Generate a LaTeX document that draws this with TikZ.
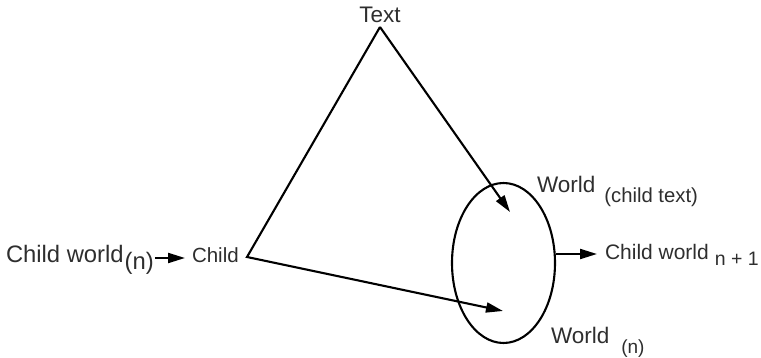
\documentclass[tikz,border=0pt]{standalone}
\usepackage{fontspec}
\setmainfont{Liberation Sans}
\usetikzlibrary{arrows.meta,shapes.geometric}
\definecolor{txt}{gray}{0.18}
\begin{document}
\begin{tikzpicture}[x=1pt,y=-1pt,
  lbl/.style={inner sep=0pt,outer sep=0pt,text=txt,font=\fontsize{22.5}{26}\selectfont},
  smalllbl/.style={lbl,font=\fontsize{20.5}{24}\selectfont},
  line/.style={line width=2.1pt,line join=miter},
  arr/.style={line,-{Triangle[length=17pt,width=10pt]}}]
\useasboundingbox (0,0) rectangle (761,358);
% labels
\node[lbl,anchor=base] (text) at (380,23) {Text};
\node[lbl,anchor=base west,font=\fontsize{23.8}{27}\selectfont] (cwn) at (6,263) {Child world\hspace{1pt}\raisebox{-7pt}{(n)}};
\node[smalllbl,anchor=base west] (child) at (192,263) {Child};
\node[lbl,anchor=base west] (wct) at (537,193) {World\hspace{9pt}\raisebox{-10pt}{\fontsize{20.3}{24}\selectfont(child text)}};
\node[lbl,anchor=base west] (wn) at (551,343) {World\hspace{12pt}\raisebox{-10pt}{\fontsize{19}{22}\selectfont(n)}};
\node[smalllbl,anchor=base west,font=\fontsize{21}{25}\selectfont] (cwn1) at (605,260) {Child world\hspace{6pt}\raisebox{-6pt}{\fontsize{19.5}{23}\selectfont n + 1}};
% world ellipse
\node[draw,line width=2.1pt,ellipse,minimum width=103pt,minimum height=160pt,inner sep=0pt] (world) at (503.5,263) {};
% coordinates
\coordinate (apex) at (380,27);
\coordinate (cvtx) at (247,257);
\coordinate (tipA) at (510,212);
\coordinate (tipB) at (503,311);
\coordinate (ya) at (0,258);
\coordinate (yb) at (0,254);
\coordinate (tipC) at (597,254);
% connectors
\draw[arr] (apex) -- (tipA);
\draw[arr] (apex) -- (cvtx) -- (tipB);
\draw[arr] ([xshift=1pt]cwn.east |- ya) -- ([xshift=-7pt]child.west |- ya);
\draw[arr] (world.east |- yb) -- (tipC);
\end{tikzpicture}
\end{document}
